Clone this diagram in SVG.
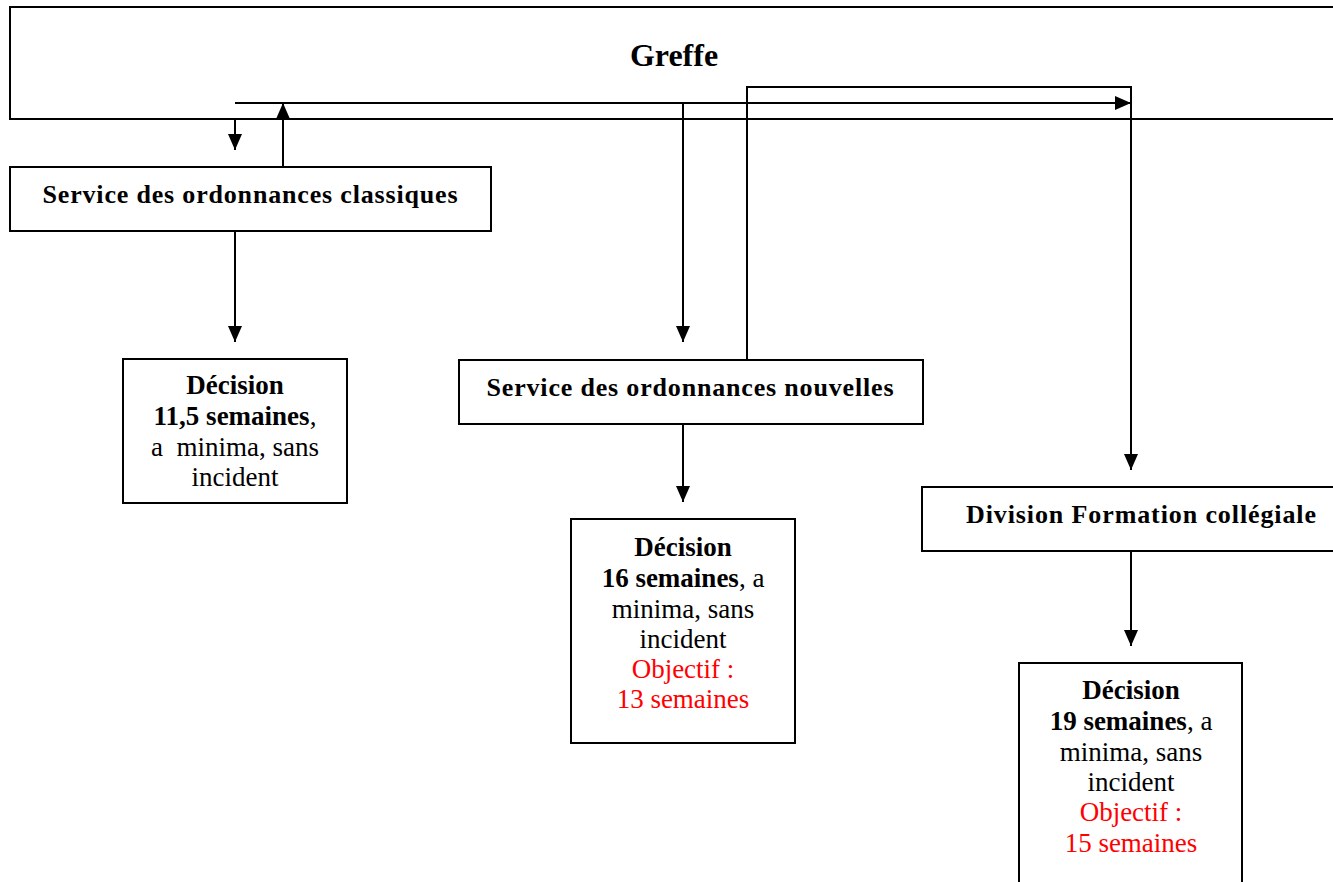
<svg xmlns="http://www.w3.org/2000/svg" width="1333" height="882" viewBox="0 0 1333 882" font-family="Liberation Serif">
<style>
.box{fill:#fff;stroke:#000;stroke-width:2}
.ln{fill:none;stroke:#000;stroke-width:2}
.t{font-family:'Liberation Serif',serif;font-size:27px;fill:#000;text-anchor:middle}
.b{font-weight:bold}
.title{font-family:'Liberation Serif',serif;font-size:26px;font-weight:bold;fill:#000;text-anchor:middle}
.red{fill:#ff0000}
</style>
<defs>
<marker id="ah" viewBox="0 0 16 14" refX="16" refY="7" markerWidth="16" markerHeight="14" markerUnits="userSpaceOnUse" orient="auto">
<path d="M0,0 L16,7 L0,14 z" fill="#000"/>
</marker>
</defs>
<rect width="1333" height="882" fill="#fff"/>

<g id="greffe">
<rect class="box" x="10" y="7" width="1340" height="112"/>
<text class="title" font-family="Liberation Serif" x="674" y="66" style="font-size:32px">Greffe</text>
</g>

<g id="classiques">
<rect class="box" x="10" y="167" width="481" height="64"/>
<text class="title" font-family="Liberation Serif" x="250" y="203" textLength="415" lengthAdjust="spacing">Service des ordonnances classiques</text>
</g>

<g id="nouvelles">
<rect class="box" x="459" y="360" width="464" height="64"/>
<text class="title" font-family="Liberation Serif" x="690" y="396" textLength="407" lengthAdjust="spacing">Service des ordonnances nouvelles</text>
</g>

<g id="division">
<rect class="box" x="922" y="487" width="430" height="64"/>
<text class="title" font-family="Liberation Serif" x="1141" y="523" textLength="350" lengthAdjust="spacing">Division Formation collégiale</text>
</g>

<g id="decision1">
<rect class="box" x="123" y="359" width="224" height="144"/>
<text class="t" font-family="Liberation Serif" xml:space="preserve"><tspan class="b" x="235" y="394">Décision</tspan><tspan x="235" y="425"><tspan class="b">11,5 semaines</tspan>,</tspan><tspan x="235" y="456">a  minima, sans</tspan><tspan x="235" y="486">incident</tspan></text>
</g>

<g id="decision2">
<rect class="box" x="571" y="519" width="224" height="224"/>
<text class="t" font-family="Liberation Serif"><tspan class="b" x="683" y="556">Décision</tspan><tspan x="683" y="587"><tspan class="b">16 semaines</tspan>, a</tspan><tspan x="683" y="618">minima, sans</tspan><tspan x="683" y="648">incident</tspan><tspan class="red" x="683" y="678">Objectif :</tspan><tspan class="red" x="683" y="708">13 semaines</tspan></text>
</g>

<g id="decision3">
<rect class="box" x="1019" y="663" width="223" height="260"/>
<text class="t" font-family="Liberation Serif"><tspan class="b" x="1131" y="699">Décision</tspan><tspan x="1131" y="730"><tspan class="b">19 semaines</tspan>, a</tspan><tspan x="1131" y="761">minima, sans</tspan><tspan x="1131" y="791">incident</tspan><tspan class="red" x="1131" y="821">Objectif :</tspan><tspan class="red" x="1131" y="852">15 semaines</tspan></text>
</g>

<g id="connectors">
<path class="ln" d="M235,119 V150" marker-end="url(#ah)"/>
<path class="ln" d="M283,167 V103" marker-end="url(#ah)"/>
<path class="ln" d="M235,103 H1131" marker-end="url(#ah)"/>
<path class="ln" d="M683,103 V342" marker-end="url(#ah)"/>
<path class="ln" d="M747,360 V87 H1131 V470" marker-end="url(#ah)"/>
<path class="ln" d="M235,231 V342" marker-end="url(#ah)"/>
<path class="ln" d="M683,424 V502" marker-end="url(#ah)"/>
<path class="ln" d="M1131,551 V646" marker-end="url(#ah)"/>
</g>
</svg>
